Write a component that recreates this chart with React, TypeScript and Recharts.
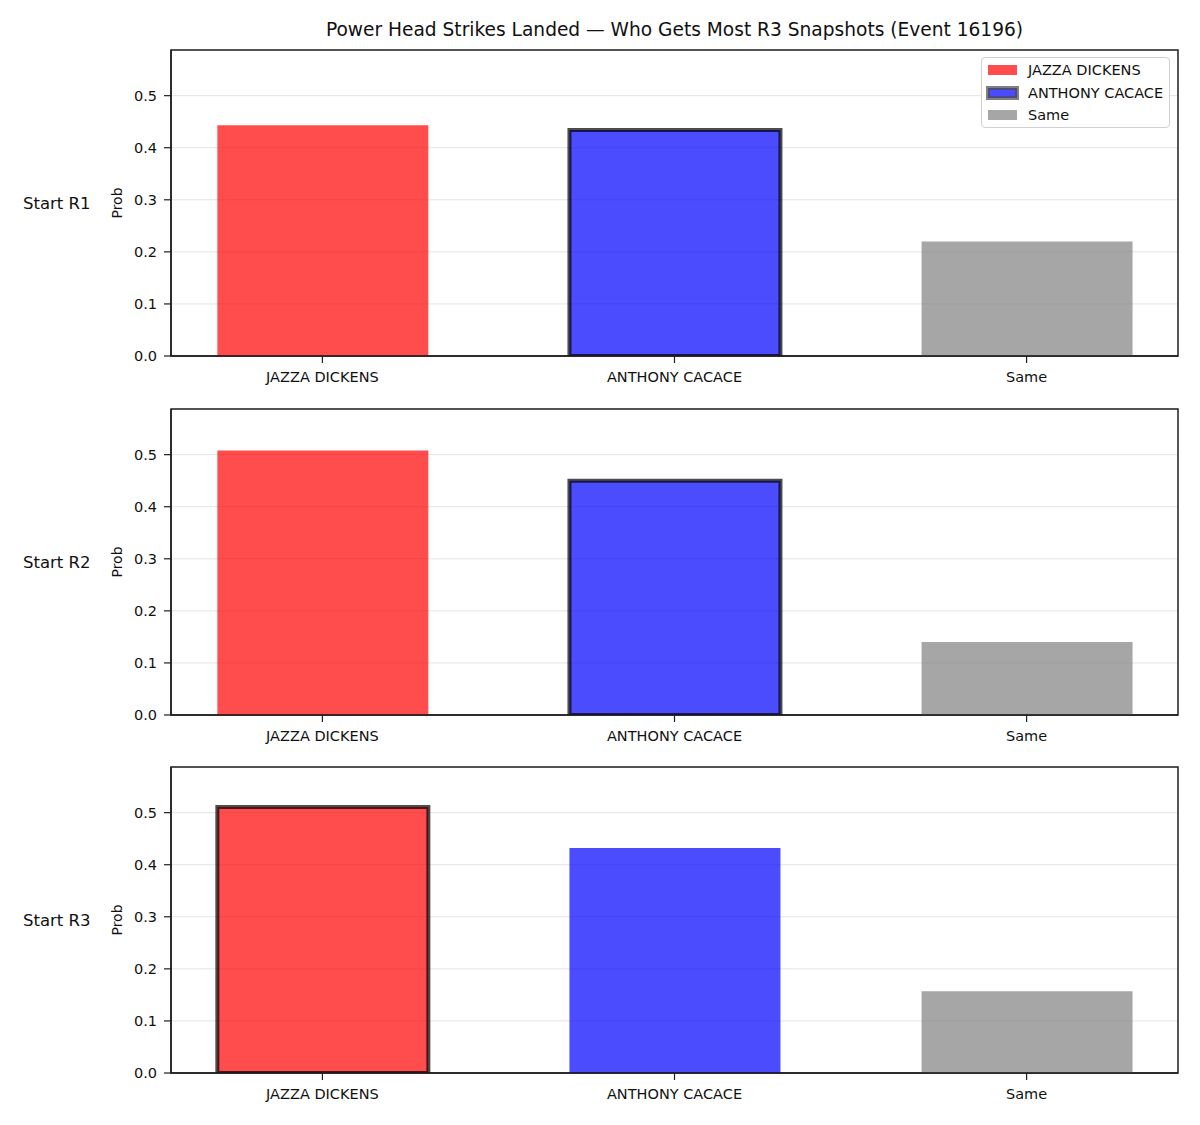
import { BarChart, Bar, XAxis, YAxis, CartesianGrid, Cell, ReferenceArea } from 'recharts';

const CATEGORIES = ['JAZZA DICKENS', 'ANTHONY CACACE', 'Same'];
const ROW_LABELS = ['Start R1', 'Start R2', 'Start R3'];
const START_R1 = [0.443, 0.434, 0.22];
const START_R2 = [0.508, 0.45, 0.14];
const START_R3 = [0.511, 0.432, 0.157];
// which bar gets the dark outline in each row
const OUTLINED = [1, 1, 0];
const Y_TICKS = [0, 0.1, 0.2, 0.3, 0.4, 0.5];

const COLORS = ['#ff0000', '#0000ff', '#808080'];
const ROWS = [START_R1, START_R2, START_R3];
const PLOT_TOPS = [50, 409, 767];
const PLOT_H = 306;
const Y_MAX = 0.5877;
const X_DOMAIN: [number, number] = [-0.43, 2.43];
const FONT = '"DejaVu Sans", sans-serif';
const AXIS = '#1f1f1f';

function LegendBox() {
  return (
    <div
      style={{
        position: 'absolute', left: 981, top: 57,
        width: 189, height: 71, border: '1px solid #d0d0d0', borderRadius: 4,
        background: 'rgba(255,255,255,0.85)', fontSize: 14.5, fontFamily: FONT,
        boxSizing: 'border-box', paddingTop: 1,
      }}
    >
      {CATEGORIES.map((name, i) => (
        <div key={name} style={{ display: 'flex', alignItems: 'center', height: 22.5 }}>
          <span
            style={{
              display: 'inline-block', marginLeft: 6, width: 29, height: 10,
              background: COLORS[i], opacity: 0.7, boxSizing: 'border-box',
              outline: i === 1 ? '4px solid rgba(0,0,0,0.7)' : 'none',
              outlineOffset: -2,
            }}
          />
          <span style={{ marginLeft: 11, color: '#111' }}>{name}</span>
        </div>
      ))}
    </div>
  );
}

function Panel({ row }: { row: number }) {
  const data = CATEGORIES.map((name, i) => ({ x: i, name, p: ROWS[row][i] }));
  const rowLabel = ROW_LABELS[row];
  return (
    <div style={{ position: 'absolute', left: 0, top: PLOT_TOPS[row] - 10 }}>
      <BarChart width={1200} height={10 + PLOT_H + 42} data={data} margin={{ top: 10, right: 22, bottom: 0, left: 111 }}>
        <CartesianGrid vertical={false} stroke="#e3e3e3" />
        <XAxis
          dataKey="x" type="number" domain={X_DOMAIN} ticks={[0, 1, 2]} allowDataOverflow
          tickFormatter={(v: number) => CATEGORIES[v]}
          tick={{ fill: '#111', fontSize: 14.5 }} tickSize={7} tickMargin={9} height={42}
          axisLine={{ stroke: AXIS, strokeWidth: 1.5 }} tickLine={{ stroke: AXIS, strokeWidth: 1.2 }}
        />
        <YAxis
          type="number" domain={[0, Y_MAX]} ticks={Y_TICKS} allowDataOverflow width={60}
          tickFormatter={(v: number) => v.toFixed(1)}
          tick={{ fill: '#111', fontSize: 14.5 }} tickSize={7} tickMargin={7}
          axisLine={{ stroke: AXIS, strokeWidth: 1.5 }} tickLine={{ stroke: AXIS, strokeWidth: 1.2 }}
          label={{
            content: ({ viewBox }: any) => {
              const cy = viewBox.y + viewBox.height / 2;
              return (
                <g>
                  <text x={117} y={cy} transform={`rotate(-90 117 ${cy})`} textAnchor="middle"
                    dominantBaseline="central" fontSize={14} fill="#111">Prob</text>
                  <text x={23} y={cy} dominantBaseline="central" fontSize={16.5} fill="#111">{rowLabel}</text>
                </g>
              );
            },
          }}
        />
        <Bar dataKey="p" barSize={211} isAnimationActive={false}>
          {data.map((d, i) => (
            <Cell
              key={d.name}
              fill={COLORS[i]}
              fillOpacity={0.7}
              stroke={OUTLINED[row] === i ? '#000' : 'none'}
              strokeOpacity={0.7}
              strokeWidth={OUTLINED[row] === i ? 4 : 0}
            />
          ))}
        </Bar>
        {/* axes frame (top + right spines) */}
        <ReferenceArea
          x1={X_DOMAIN[0]} x2={X_DOMAIN[1]} y1={0} y2={Y_MAX}
          fill="none" fillOpacity={0} stroke={AXIS} strokeWidth={1.5} ifOverflow="visible"
        />
      </BarChart>
    </div>
  );
}

export default function App() {
  return (
    <div style={{ position: 'absolute', left: 0, top: 0, width: 1200, height: 1125, background: '#fff', fontFamily: FONT }}>
      <div style={{ position: 'absolute', left: 171, width: 1007, top: 19, textAlign: 'center', fontSize: 18.6, color: '#111' }}>
        Power Head Strikes Landed — Who Gets Most R3 Snapshots (Event 16196)
      </div>
      {[0, 1, 2].map((r) => (
        <Panel key={r} row={r} />
      ))}
      <LegendBox />
    </div>
  );
}
